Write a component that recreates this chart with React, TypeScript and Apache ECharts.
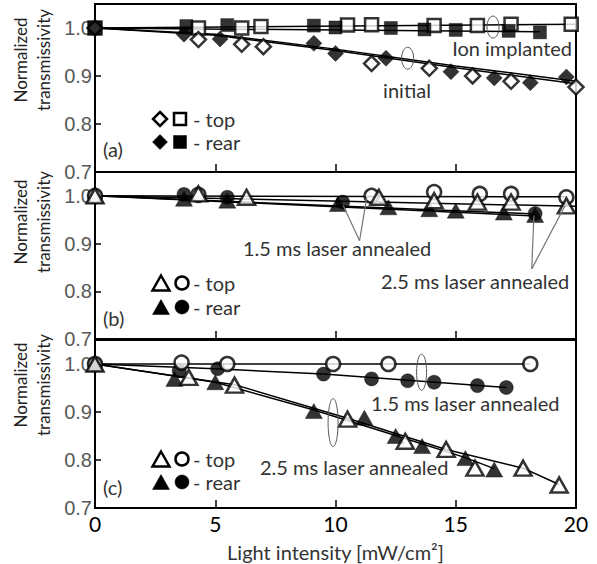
import React, { useEffect, useRef } from "react";
import * as echarts from "echarts";

// ---------- Data ----------
const xTickStep = 5;
const yTickStep = 0.1;

// Panel (a)
const aTopInitial = [[0, 1.0], [4.3, 0.976], [6.1, 0.966], [7.0, 0.961], [11.5, 0.926], [13.9, 0.916], [15.7, 0.9], [17.3, 0.889], [20.0, 0.877]];
const aRearInitial = [[0, 1.0], [3.7, 0.987], [5.2, 0.977], [9.1, 0.968], [10.0, 0.947], [12.1, 0.937], [14.8, 0.909], [16.6, 0.896], [18.1, 0.886], [19.6, 0.898]];
const aTopImplanted = [[0, 1.0], [4.3, 1.0], [6.1, 1.0], [6.9, 1.003], [10.5, 1.006], [11.5, 1.007], [14.1, 1.005], [15.9, 1.005], [17.3, 1.008], [19.8, 1.008]];
const aRearImplanted = [[0, 1.0], [3.8, 1.004], [5.5, 1.006], [9.1, 1.005], [10.0, 1.001], [12.3, 1.0], [13.7, 0.997], [15.0, 0.996], [17.2, 0.994], [18.5, 0.991]];
const aFitTopInitial = [[0, 1.0], [5, 0.985], [10, 0.953], [15, 0.917], [20, 0.884]];
const aFitRearInitial = [[0, 1.0], [5, 0.987], [10, 0.956], [15, 0.921], [20, 0.889]];
const aFitTopImplanted = [[0, 1.0], [20, 1.008]];
const aFitRearImplanted = [[0, 1.0], [18.5, 0.992]];

// Panel (b)
const bTopTri = [[0, 1.0], [4.3, 1.004], [6.3, 0.997], [11.8, 0.997], [14.1, 0.99], [15.9, 0.987], [17.3, 0.987], [19.6, 0.979]];
const bTopCirc = [[0, 1.0], [4.3, 1.002], [11.5, 1.0], [14.1, 1.008], [16.0, 1.004], [17.3, 1.004], [19.6, 0.997]];
const bRearTri = [[0, 1.0], [3.7, 0.994], [5.5, 0.99], [10.1, 0.983], [12.2, 0.976], [13.9, 0.972], [15.0, 0.969], [17.0, 0.965], [18.3, 0.96]];
const bRearCirc = [[0, 1.0], [3.7, 1.003], [5.5, 0.997], [10.3, 0.987], [18.3, 0.963]];
const bFitTopCirc = [[0, 1.0], [19.6, 0.998]];
const bFitTopTri = [[0, 1.0], [20, 0.978]];
const bFitRearCirc = [[0, 1.0], [18.3, 0.962]];
const bFitRearTri = [[0, 1.0], [18.3, 0.958]];

// Panel (c)
const cTopCirc = [[0, 1.0], [3.6, 1.003], [5.5, 1.0], [9.9, 1.0], [12.2, 1.0], [18.1, 1.0]];
const cRearCirc = [[0, 1.0], [3.5, 0.986], [5.1, 0.99], [9.5, 0.979], [11.5, 0.969], [13.0, 0.965], [14.1, 0.962], [15.9, 0.955], [17.1, 0.951]];
const cTopTri = [[0, 1.0], [3.9, 0.972], [5.8, 0.956], [10.5, 0.885], [12.9, 0.839], [14.6, 0.822], [15.8, 0.783], [17.8, 0.783], [19.3, 0.748]];
const cRearTri = [[0, 1.0], [3.3, 0.969], [5.0, 0.962], [9.1, 0.902], [11.2, 0.888], [12.5, 0.85], [13.6, 0.829], [15.4, 0.804], [16.6, 0.78]];
const cFitTopCirc = [[0, 1.0], [18.1, 1.0]];
const cFitRearCirc = [[0, 1.0], [5, 0.99], [9.5, 0.979], [17.1, 0.951]];
const cFitTopTri = [[0, 1.0], [5.8, 0.957], [10.5, 0.887], [14.6, 0.822], [17.8, 0.783], [19.3, 0.749]];
const cFitRearTri = [[0, 1.0], [5.0, 0.962], [9.1, 0.904], [12.5, 0.851], [15.4, 0.805], [16.6, 0.782]];

const panelLabels = ["(a)", "(b)", "(c)"];
const xTitle = "Light intensity [mW/cm²]";
const yTitle1 = "Normalized";
const yTitle2 = "transmissivity";

// ---------- Styling ----------
const FONT = "Lato";
const openStyle = { color: "#fff", borderColor: "#000", borderWidth: 2.5 };
const filledStyle = { color: "#000", borderColor: "#000", borderWidth: 0.5 };

function sc(g: number, data: number[][], symbol: string, size: any, style: any) {
  return { type: "scatter", xAxisIndex: g, yAxisIndex: g, data, symbol, symbolSize: size, itemStyle: style, z: 3, silent: true };
}
function fit(g: number, data: number[][]) {
  return {
    type: "line", xAxisIndex: g, yAxisIndex: g, data, symbol: "none", showSymbol: false,
    lineStyle: { color: "#000", width: 1.5 }, z: 2, silent: true,
  };
}

const grids = [
  { left: 95, right: 21, top: 4, height: 168 },
  { left: 95, right: 21, top: 172, height: 167 },
  { left: 95, right: 21, top: 340, height: 168 },
];

export default function App() {
  const ref = useRef<HTMLDivElement>(null);
  useEffect(() => {
    const chart = echarts.init(ref.current!, null, { renderer: "svg" });
    const option: any = {
      animation: false,
      backgroundColor: "#fff",
      grid: grids.map((g) => ({ ...g, show: true, borderColor: "#000", borderWidth: 2, backgroundColor: "transparent" })),
      xAxis: [0, 1, 2].map((i) => ({
        type: "value", gridIndex: i, min: 0, max: 20, interval: xTickStep,
        axisLine: { show: true, lineStyle: { color: "#000", width: 2 } },
        axisTick: { show: true, inside: true, length: 8, lineStyle: { color: "#000", width: 1.5 } },
        axisLabel: { show: i === 2, fontFamily: FONT, fontSize: 21, color: "#000", margin: 5 },
        splitLine: { show: false },
        name: i === 2 ? xTitle : "",
        nameLocation: "middle",
        nameGap: 34,
        nameTextStyle: { fontFamily: FONT, fontSize: 20, color: "#333" },
      })),
      yAxis: [0, 1, 2].map((i) => ({
        type: "value", gridIndex: i, min: 0.7, max: 1.05, interval: yTickStep,
        axisLine: { show: true, lineStyle: { color: "#000", width: 2 } },
        axisTick: { show: true, inside: true, length: 6, lineStyle: { color: "#000", width: 1.5 } },
        axisLabel: {
          fontFamily: "Liberation Sans", fontSize: 20, color: "#595959", margin: 3,
          formatter: (v: number) => (v > 1.02 ? "" : v.toFixed(1)),
        },
        splitLine: { show: false },
      })),
      series: [
        fit(0, aFitTopInitial), fit(0, aFitRearInitial), fit(0, aFitTopImplanted), fit(0, aFitRearImplanted),
        sc(0, aTopImplanted, "rect", 13, openStyle),
        sc(0, aRearImplanted, "rect", 13, filledStyle),
        sc(0, aTopInitial, "diamond", 15, openStyle),
        sc(0, aRearInitial, "diamond", 16, filledStyle),

        fit(1, bFitTopCirc), fit(1, bFitTopTri), fit(1, bFitRearCirc), fit(1, bFitRearTri),
        sc(1, bRearTri, "triangle", [17, 15], filledStyle),
        sc(1, bRearCirc, "circle", 14, filledStyle),
        sc(1, bTopCirc, "circle", 14, openStyle),
        sc(1, bTopTri, "triangle", [17, 15], openStyle),

        fit(2, cFitTopCirc), fit(2, cFitRearCirc), fit(2, cFitTopTri), fit(2, cFitRearTri),
        sc(2, cRearCirc, "circle", 14, filledStyle),
        sc(2, cTopCirc, "circle", 14, openStyle),
        sc(2, cRearTri, "triangle", [17, 15], filledStyle),
        sc(2, cTopTri, "triangle", [17, 15], openStyle),
      ],
    };
    chart.setOption(option);

    const P = (g: number, x: number, y: number) => chart.convertToPixel({ gridIndex: g } as any, [x, y]) as number[];
    const txtStyle = (s: string, align = "left") => ({ text: s, font: `20px ${FONT}`, fill: "#333", align, verticalAlign: "middle" });
    const label = (g: number, x: number, y: number, s: string) => {
      const p = P(g, x, y);
      return { type: "text", x: p[0], y: p[1], style: txtStyle(s), z: 10 };
    };
    const loop = (g: number, x: number, y: number, rx: number, ry: number) => {
      const p = P(g, x, y);
      return { type: "ellipse", shape: { cx: p[0], cy: p[1], rx, ry }, style: { fill: "none", stroke: "#555", lineWidth: 1 }, z: 10 };
    };
    const pointer = (g: number, a: number[], b: number[]) => {
      const p = P(g, a[0], a[1]);
      const q = P(g, b[0], b[1]);
      return { type: "line", shape: { x1: p[0], y1: p[1], x2: q[0], y2: q[1] }, style: { stroke: "#777", lineWidth: 1.2 }, z: 10 };
    };

    const sw = 2.5;
    const diamond = (cx: number, cy: number, s: number, f: boolean) => ({
      type: "polygon", shape: { points: [[cx, cy - s / 2], [cx + s / 2, cy], [cx, cy + s / 2], [cx - s / 2, cy]] },
      style: { fill: f ? "#000" : "#fff", stroke: "#000", lineWidth: f ? 0.5 : sw }, z: 10,
    });
    const square = (cx: number, cy: number, s: number, f: boolean) => ({
      type: "rect", shape: { x: cx - s / 2, y: cy - s / 2, width: s, height: s },
      style: { fill: f ? "#000" : "#fff", stroke: "#000", lineWidth: f ? 0.5 : sw }, z: 10,
    });
    const tri = (cx: number, cy: number, w: number, h: number, f: boolean) => ({
      type: "polygon", shape: { points: [[cx, cy - h / 2], [cx + w / 2, cy + h / 2], [cx - w / 2, cy + h / 2]] },
      style: { fill: f ? "#000" : "#fff", stroke: "#000", lineWidth: f ? 0.5 : sw }, z: 10,
    });
    const circ = (cx: number, cy: number, r: number, f: boolean) => ({
      type: "circle", shape: { cx, cy, r },
      style: { fill: f ? "#000" : "#fff", stroke: "#000", lineWidth: f ? 0.5 : sw }, z: 10,
    });
    const ptext = (x: number, y: number, s: string) => ({ type: "text", x, y, style: txtStyle(s), z: 10 });

    const legendRows = [
      { top: 119, rear: 142, lab: 149 },
      { top: 283, rear: 307, lab: 318 },
      { top: 459, rear: 482, lab: 487 },
    ];
    const graphics: any[] = [];
    legendRows.forEach((r, i) => {
      if (i === 0) {
        graphics.push(diamond(160, r.top, 14, false), square(180, r.top, 12, false));
        graphics.push(diamond(160, r.rear, 15, true), square(180, r.rear, 13, true));
      } else {
        graphics.push(tri(161, r.top, 17, 15, false), circ(182, r.top, 6.5, false));
        graphics.push(tri(161, r.rear, 17, 15, true), circ(182, r.rear, 7, true));
      }
      graphics.push(ptext(193, r.top, "- top"), ptext(193, r.rear, "- rear"), ptext(103, r.lab, panelLabels[i]));
    });

    // y titles
    [60, 222, 385].forEach((cy) => {
      graphics.push({ type: "text", x: 20, y: cy, rotation: Math.PI / 2, style: { text: yTitle1, font: `17px ${FONT}`, fill: "#222", align: "center", verticalAlign: "middle" } });
      graphics.push({ type: "text", x: 43, y: cy, rotation: Math.PI / 2, style: { text: yTitle2, font: `17px ${FONT}`, fill: "#222", align: "center", verticalAlign: "middle" } });
    });

    // annotations
    graphics.push(label(0, 14.85, 0.958, "Ion implanted"), loop(0, 16.55, 1.002, 6, 11));
    graphics.push(label(0, 11.98, 0.87, "initial"), loop(0, 13.0, 0.937, 6, 11));

    graphics.push(label(1, 6.15, 0.891, "1.5 ms laser annealed"));
    graphics.push(pointer(1, [11.0, 0.906], [10.32, 0.98]), pointer(1, [11.0, 0.906], [11.3, 0.997]));
    graphics.push(label(1, 11.89, 0.822, "2.5 ms laser annealed"));
    graphics.push(pointer(1, [18.16, 0.847], [18.25, 0.959]), pointer(1, [18.16, 0.847], [19.54, 0.979]));

    graphics.push(label(2, 11.48, 0.918, "1.5 ms laser annealed"), loop(2, 13.58, 0.983, 5, 18));
    graphics.push(label(2, 6.86, 0.786, "2.5 ms laser annealed"), loop(2, 9.9, 0.878, 5, 24));

    chart.setOption({ graphic: graphics });
    return () => chart.dispose();
  }, []);
  return <div ref={ref} style={{ position: "fixed", left: 0, top: 0, width: 597, height: 564 }} />;
}
